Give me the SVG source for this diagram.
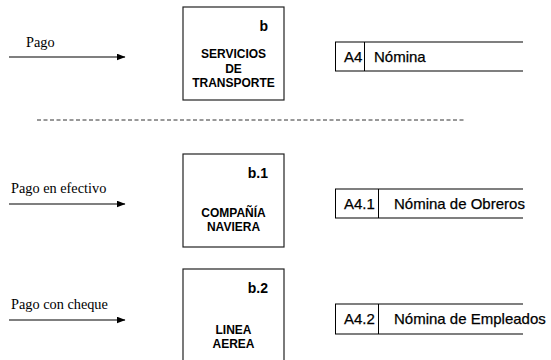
<svg xmlns="http://www.w3.org/2000/svg" width="551" height="360" viewBox="0 0 551 360">
<defs>
<marker id="ah" markerWidth="9" markerHeight="7" refX="8.5" refY="3.5" orient="auto" markerUnits="userSpaceOnUse">
<path d="M0,0 L9,3.5 L0,7 Z" fill="#000"/>
</marker>
<style>
.flow{stroke:#000;stroke-width:1.2;fill:none}
.lbl{font-family:"Liberation Serif","Times New Roman",serif;font-size:14.3px;fill:#000}
.box{fill:#fff;stroke:#222;stroke-width:1.2}
.id{font-family:"Liberation Sans",Arial,sans-serif;font-weight:bold;font-size:14px;fill:#000;text-anchor:end}
.name{font-family:"Liberation Sans",Arial,sans-serif;font-weight:bold;font-size:12px;fill:#000;text-anchor:middle}
.sh{stroke:#555;stroke-width:1.5;fill:none}
.sv{stroke:#000;stroke-width:1;fill:none}
.st{font-family:"Liberation Sans",Arial,sans-serif;font-size:15px;fill:#000;stroke:#000;stroke-width:0.25}
</style>
</defs>
<rect width="551" height="360" fill="#fff"/>
<g id="connectors">
<line class="flow" x1="9" y1="57" x2="125" y2="57" marker-end="url(#ah)"/>
<line class="flow" x1="9" y1="204" x2="125" y2="204" marker-end="url(#ah)"/>
<line class="flow" x1="9" y1="320" x2="125" y2="320" marker-end="url(#ah)"/>
<text class="lbl" x="26" y="47">Pago</text>
<text class="lbl" x="11" y="193">Pago en efectivo</text>
<text class="lbl" x="11" y="309">Pago con cheque</text>
</g>
<line id="divider" x1="37" y1="120" x2="466" y2="120" stroke="#333" stroke-width="1" stroke-dasharray="4,2.5"/>
<g id="b">
<rect class="box" x="183" y="7" width="101" height="93"/>
<text class="id" x="268" y="31">b</text>
<text class="name" x="233.5" y="58">SERVICIOS</text>
<text class="name" x="233.5" y="72.5">DE</text>
<text class="name" x="233.5" y="87">TRANSPORTE</text>
</g>
<g id="b1">
<rect class="box" x="183" y="154" width="101" height="93"/>
<text class="id" x="268" y="178">b.1</text>
<text class="name" x="233.5" y="216.5">COMPAÑÍA</text>
<text class="name" x="233.5" y="230.5">NAVIERA</text>
</g>
<g id="b2">
<rect class="box" x="183" y="269" width="101" height="100"/>
<text class="id" x="268" y="292.5">b.2</text>
<text class="name" x="233.5" y="334">LINEA</text>
<text class="name" x="233.5" y="348">AEREA</text>
</g>
<g id="A4">
<line class="sh" x1="335" y1="42" x2="523" y2="42"/>
<line class="sh" x1="335" y1="71" x2="523" y2="71"/>
<line class="sv" x1="335.5" y1="42" x2="335.5" y2="71"/>
<line class="sv" x1="364.5" y1="42" x2="364.5" y2="71"/>
<text class="st" x="344" y="62">A4</text>
<text class="st" x="374" y="62">Nómina</text>
</g>
<g id="A4.1">
<line class="sh" x1="335" y1="189" x2="523" y2="189"/>
<line class="sh" x1="335" y1="218" x2="523" y2="218"/>
<line class="sv" x1="335.5" y1="189" x2="335.5" y2="218"/>
<line class="sv" x1="378.5" y1="189" x2="378.5" y2="218"/>
<text class="st" x="344" y="209">A4.1</text>
<text class="st" x="394" y="209">Nómina de Obreros</text>
</g>
<g id="A4.2">
<line class="sh" x1="335" y1="304" x2="523" y2="304"/>
<line class="sh" x1="335" y1="334" x2="523" y2="334"/>
<line class="sv" x1="335.5" y1="304" x2="335.5" y2="334"/>
<line class="sv" x1="378.5" y1="304" x2="378.5" y2="334"/>
<text class="st" x="344" y="324">A4.2</text>
<text class="st" x="394" y="324">Nómina de Empleados</text>
</g>
</svg>
